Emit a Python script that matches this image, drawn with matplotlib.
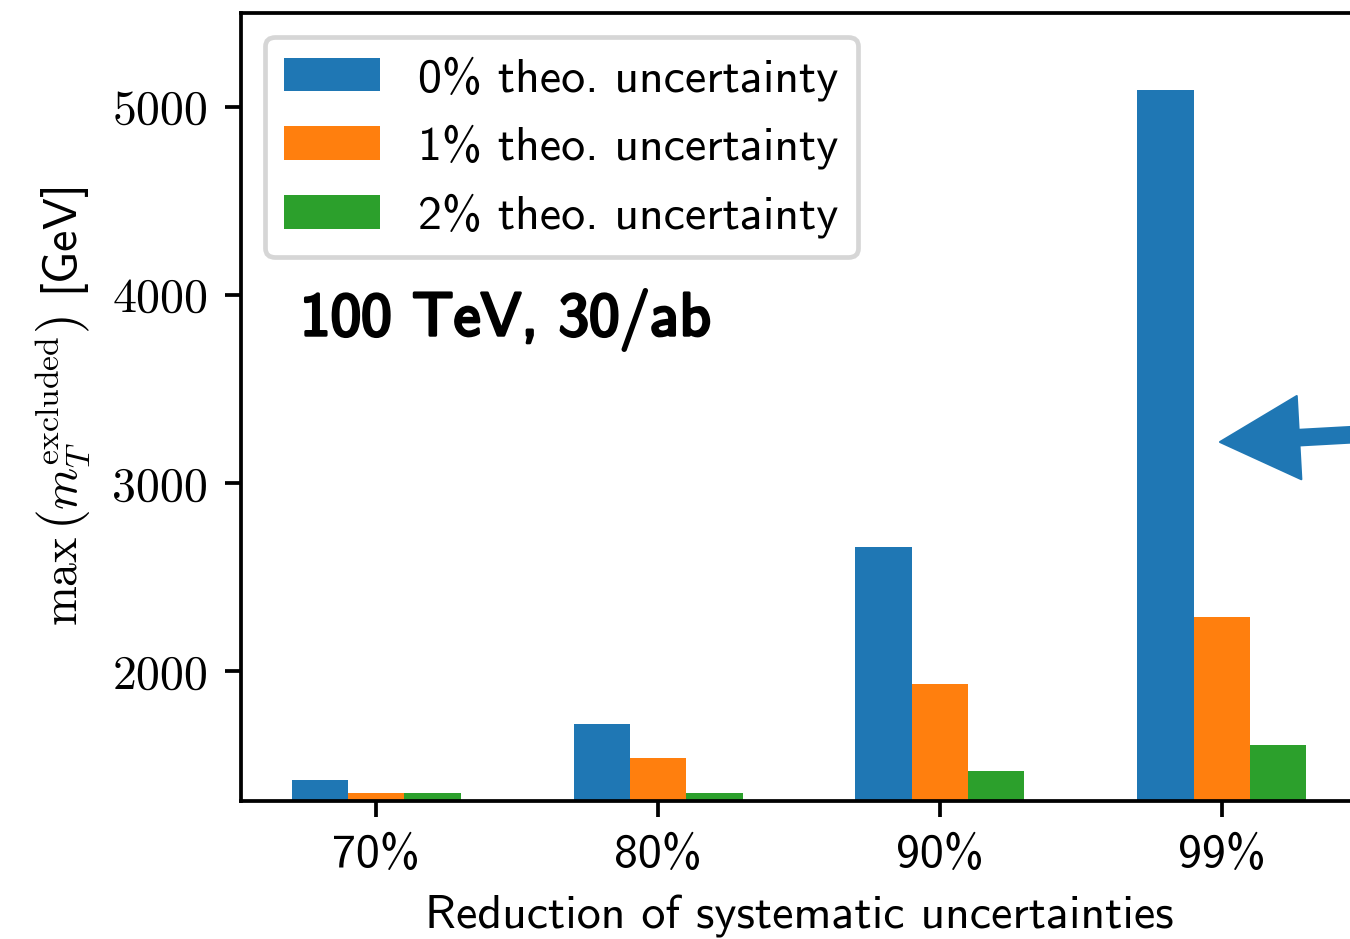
import matplotlib
matplotlib.use("Agg")
import matplotlib.pyplot as plt
import matplotlib.patheffects as pe
import numpy as np

reductions = ["70%", "80%", "90%", "99%"]
theo_labels = ["0% theo. uncertainty", "1% theo. uncertainty", "2% theo. uncertainty"]
mt_theo0 = [1420, 1720, 2660, 5090]
mt_theo1 = [1350, 1540, 1930, 2290]
mt_theo2 = [1350, 1350, 1470, 1610]
colors = ["#1f77b4", "#ff7f0e", "#2ca02c"]

s = 2.25  # scale factor for line widths / tick sizes at this dpi
plt.rcParams.update({
    "font.family": "cmss10",
    "font.size": 23,
    "mathtext.fontset": "cm",
    "axes.linewidth": 0.8 * s,
    "xtick.major.size": 3.5 * s,
    "ytick.major.size": 3.5 * s,
    "xtick.major.width": 0.8 * s,
    "ytick.major.width": 0.8 * s,
    "xtick.major.pad": 3.5 * s,
    "ytick.major.pad": 3.5 * s,
    "axes.unicode_minus": False,
})

fig = plt.figure(figsize=(9, 6.26), dpi=150)
ax = fig.add_axes([0.1785, 0.147, 0.8267, 0.8392])

x = np.arange(len(reductions))
w = 0.2
for i, vals in enumerate([mt_theo0, mt_theo1, mt_theo2]):
    ax.bar(x + (i - 1) * w, vals, w, color=colors[i], label=theo_labels[i])

ax.set_xlim(-0.48, 3.48)
ax.set_ylim(1310, 5500)
ax.set_xticks(x)
ax.set_xticklabels(reductions)
ax.set_yticks([2000, 3000, 4000, 5000])
ax.set_yticklabels(["2000", "3000", "4000", "5000"], fontfamily="cmr10")

ax.set_xlabel("Reduction of systematic uncertainties", labelpad=4 * s)
ax.set_ylabel(r"$\max\,\left(m_T^{\mathrm{excluded}}\right)$ [GeV]", labelpad=4 * s)

leg = ax.legend(loc="upper left", fancybox=True)
leg.get_frame().set_linewidth(1.0 * s)

# heavy sans label: cmss10 thickened with a stroke
ax.text(0.053, 0.591, "100 TeV, 30/ab", transform=ax.transAxes,
        fontfamily="cmss10", fontsize=29.3, ha="left", va="baseline",
        path_effects=[pe.withStroke(linewidth=1.4, foreground="black")])

# arrow coming in from the right, pointing at the 99% bar
ax.annotate("", xy=(1220, 497), xycoords="figure pixels",
            xytext=(1365, 505), textcoords="figure pixels",
            arrowprops=dict(arrowstyle="simple,head_length=3.8,head_width=4.0,tail_width=0.75",
                            mutation_scale=10, color=colors[0], shrinkA=0, shrinkB=0),
            annotation_clip=False)

fig.savefig("out.png", dpi=150)
